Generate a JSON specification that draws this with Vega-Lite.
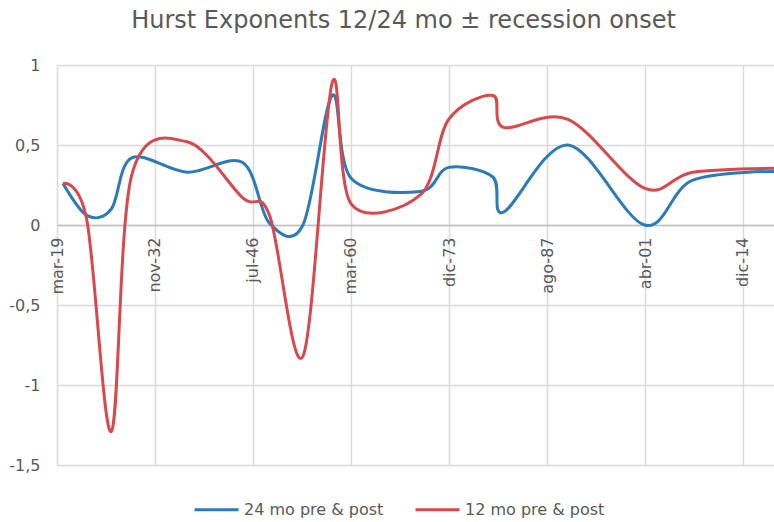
{
  "$schema": "https://vega.github.io/schema/vega-lite/v6.json",
  "width": 717,
  "height": 400,
  "autosize": "none",
  "padding": {"left": 57, "top": 65, "right": 0, "bottom": 57},
  "background": "white",
  "title": {
    "text": "Hurst Exponents 12/24 mo ± recession onset",
    "font": "DejaVu Sans",
    "fontSize": 24,
    "fontWeight": "normal",
    "color": "#595959",
    "offset": 24,
    "dx": -12
  },
  "data": {
    "values": [
      {"date": "1920-01-01", "series": "24 mo pre & post", "value": 0.26},
      {"date": "1923-05-01", "series": "24 mo pre & post", "value": 0.06},
      {"date": "1926-10-01", "series": "24 mo pre & post", "value": 0.10},
      {"date": "1929-08-01", "series": "24 mo pre & post", "value": 0.42},
      {"date": "1937-05-01", "series": "24 mo pre & post", "value": 0.33},
      {"date": "1945-02-01", "series": "24 mo pre & post", "value": 0.39},
      {"date": "1948-11-01", "series": "24 mo pre & post", "value": 0.01},
      {"date": "1953-07-01", "series": "24 mo pre & post", "value": 0.00},
      {"date": "1957-08-01", "series": "24 mo pre & post", "value": 0.81},
      {"date": "1960-04-01", "series": "24 mo pre & post", "value": 0.29},
      {"date": "1969-12-01", "series": "24 mo pre & post", "value": 0.21},
      {"date": "1973-11-01", "series": "24 mo pre & post", "value": 0.36},
      {"date": "1980-01-01", "series": "24 mo pre & post", "value": 0.30},
      {"date": "1981-07-01", "series": "24 mo pre & post", "value": 0.08},
      {"date": "1990-07-01", "series": "24 mo pre & post", "value": 0.50},
      {"date": "2001-03-01", "series": "24 mo pre & post", "value": 0.00},
      {"date": "2007-12-01", "series": "24 mo pre & post", "value": 0.28},
      {"date": "2020-02-01", "series": "24 mo pre & post", "value": 0.335},
      {"date": "1920-01-01", "series": "12 mo pre & post", "value": 0.26},
      {"date": "1923-05-01", "series": "12 mo pre & post", "value": 0.03},
      {"date": "1926-10-01", "series": "12 mo pre & post", "value": -1.29},
      {"date": "1929-08-01", "series": "12 mo pre & post", "value": 0.31},
      {"date": "1937-05-01", "series": "12 mo pre & post", "value": 0.52},
      {"date": "1945-02-01", "series": "12 mo pre & post", "value": 0.17},
      {"date": "1948-11-01", "series": "12 mo pre & post", "value": 0.06},
      {"date": "1953-07-01", "series": "12 mo pre & post", "value": -0.82},
      {"date": "1957-08-01", "series": "12 mo pre & post", "value": 0.89},
      {"date": "1960-04-01", "series": "12 mo pre & post", "value": 0.13},
      {"date": "1969-12-01", "series": "12 mo pre & post", "value": 0.19},
      {"date": "1973-11-01", "series": "12 mo pre & post", "value": 0.66},
      {"date": "1980-01-01", "series": "12 mo pre & post", "value": 0.81},
      {"date": "1981-07-01", "series": "12 mo pre & post", "value": 0.61},
      {"date": "1990-07-01", "series": "12 mo pre & post", "value": 0.66},
      {"date": "2001-03-01", "series": "12 mo pre & post", "value": 0.23},
      {"date": "2007-12-01", "series": "12 mo pre & post", "value": 0.33},
      {"date": "2020-02-01", "series": "12 mo pre & post", "value": 0.355}
    ]
  },
  "mark": {"type": "line", "interpolate": "cardinal", "tension": 0, "strokeWidth": 3, "clip": true},
  "encoding": {
    "x": {
      "field": "date",
      "type": "temporal",
      "scale": {"type": "utc", "domain": ["1919-03-01", "2019-04-01"]},
      "axis": {
        "title": null,
        "values": ["1919-03-01", "1932-11-01", "1946-07-01", "1960-03-01", "1973-12-01", "1987-08-01", "2001-04-01", "2014-12-01"],
        "labelExpr": "['ene','feb','mar','abr','may','jun','jul','ago','sep','oct','nov','dic'][utcmonth(datum.value)] + '-' + utcFormat(datum.value, '%y')",
        "labelAngle": -90,
        "labelAlign": "right",
        "labelBaseline": "middle",
        "labelPadding": 12,
        "labelFont": "DejaVu Sans",
        "labelFontSize": 16,
        "labelColor": "#595959",
        "ticks": false,
        "offset": -240,
        "domainColor": "#bfbfbf",
        "domainWidth": 1.5,
        "grid": true,
        "gridColor": "#d9d9d9",
        "gridWidth": 1.5
      }
    },
    "y": {
      "field": "value",
      "type": "quantitative",
      "scale": {"domain": [-1.5, 1], "nice": false, "zero": false},
      "axis": {
        "title": null,
        "values": [-1.5, -1, -0.5, 0, 0.5, 1],
        "labelExpr": "replace(toString(datum.value), '.', ',')",
        "labelFont": "DejaVu Sans",
        "labelFontSize": 16,
        "labelColor": "#595959",
        "labelPadding": 17,
        "ticks": false,
        "domain": false,
        "grid": true,
        "gridColor": "#d9d9d9",
        "gridWidth": 1.5
      }
    },
    "color": {
      "field": "series",
      "type": "nominal",
      "scale": {"domain": ["24 mo pre & post", "12 mo pre & post"], "range": ["#2b7bba", "#d9484c"]},
      "legend": {
        "title": null,
        "orient": "none",
        "legendX": 136,
        "legendY": 421,
        "direction": "horizontal",
        "symbolType": "stroke",
        "symbolSize": 1936,
        "symbolStrokeWidth": 3,
        "labelFont": "DejaVu Sans",
        "labelFontSize": 16,
        "labelColor": "#595959",
        "columnPadding": 25
      }
    }
  },
  "config": {"view": {"stroke": null}}
}
